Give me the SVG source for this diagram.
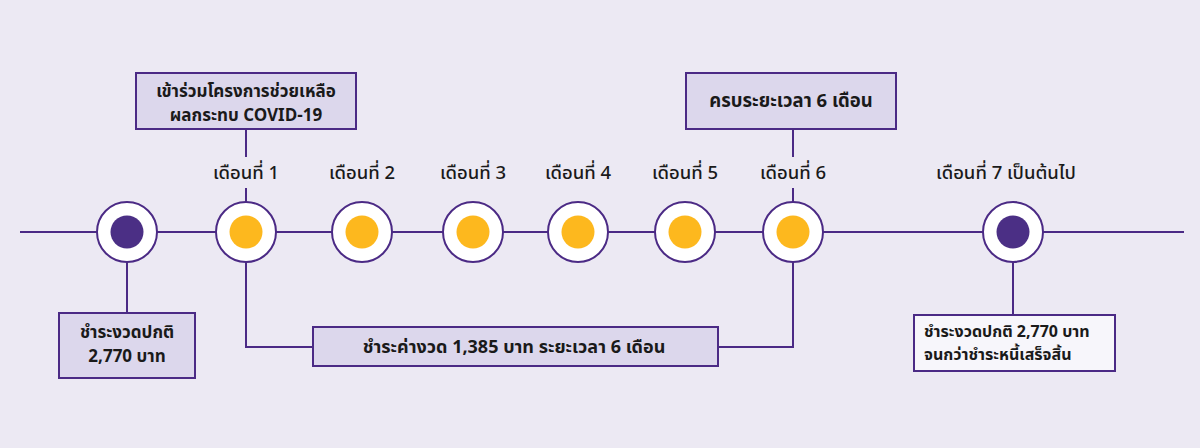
<svg xmlns="http://www.w3.org/2000/svg" width="1200" height="448" viewBox="0 0 1200 448">
<style>
.bg{fill:#ece9f3}
.ln{stroke:#4b2a85;stroke-width:2;fill:none}
.box{fill:#dcd7ec;stroke:#4b2a85;stroke-width:2}
.boxw{fill:#f7f6fb;stroke:#4b2a85;stroke-width:2}
.outer{fill:#ffffff;stroke:#4b2a85;stroke-width:2}
.dot-p{fill:#4b2f85}
.dot-y{fill:#fdb81e}
.lbl{font-family:"Noto Sans Thai","Noto Sans","Liberation Sans",sans-serif;font-size:18.5px;font-weight:500;fill:#1a1a1a;text-anchor:middle}
.bt{font-family:"Noto Sans Thai","Noto Sans","Liberation Sans",sans-serif;font-size:18.5px;font-weight:bold;fill:#1a1a1a;text-anchor:middle}
.bt2{font-family:"Noto Sans Thai","Noto Sans","Liberation Sans",sans-serif;font-size:17px;font-weight:bold;fill:#1a1a1a;text-anchor:middle}
.btl{font-family:"Noto Sans Thai","Noto Sans","Liberation Sans",sans-serif;font-size:16px;font-weight:bold;fill:#1a1a1a}
</style>
<rect class="bg" x="0" y="0" width="1200" height="448"/>
<g id="connectors">
<line class="ln" x1="20" y1="232" x2="1184" y2="232"/>
<line class="ln" x1="246" y1="129" x2="246" y2="157"/>
<line class="ln" x1="246" y1="188" x2="246" y2="202"/>
<line class="ln" x1="793" y1="129" x2="793" y2="157"/>
<line class="ln" x1="793" y1="188" x2="793" y2="202"/>
<line class="ln" x1="127" y1="262" x2="127" y2="313"/>
<polyline class="ln" points="246,262 246,347 313,347"/>
<polyline class="ln" points="718,347 793,347 793,262"/>
<line class="ln" x1="1013" y1="262" x2="1013" y2="315"/>
</g>
<g id="node-start">
<circle class="outer" cx="127" cy="232" r="30"/>
<circle class="dot-p" cx="127" cy="232" r="16.5"/>
</g>
<g id="node-m1">
<circle class="outer" cx="246" cy="232" r="30"/>
<circle class="dot-y" cx="246" cy="232" r="16.5"/>
<text class="lbl" x="246" y="179">เดือนที่ 1</text>
</g>
<g id="node-m2">
<circle class="outer" cx="362" cy="232" r="30"/>
<circle class="dot-y" cx="362" cy="232" r="16.5"/>
<text class="lbl" x="362" y="179">เดือนที่ 2</text>
</g>
<g id="node-m3">
<circle class="outer" cx="473" cy="232" r="30"/>
<circle class="dot-y" cx="473" cy="232" r="16.5"/>
<text class="lbl" x="473" y="179">เดือนที่ 3</text>
</g>
<g id="node-m4">
<circle class="outer" cx="578" cy="232" r="30"/>
<circle class="dot-y" cx="578" cy="232" r="16.5"/>
<text class="lbl" x="578" y="179">เดือนที่ 4</text>
</g>
<g id="node-m5">
<circle class="outer" cx="685" cy="232" r="30"/>
<circle class="dot-y" cx="685" cy="232" r="16.5"/>
<text class="lbl" x="685" y="179">เดือนที่ 5</text>
</g>
<g id="node-m6">
<circle class="outer" cx="793" cy="232" r="30"/>
<circle class="dot-y" cx="793" cy="232" r="16.5"/>
<text class="lbl" x="793" y="179">เดือนที่ 6</text>
</g>
<g id="node-m7">
<circle class="outer" cx="1013" cy="232" r="30"/>
<circle class="dot-p" cx="1013" cy="232" r="16.5"/>
<text class="lbl" x="1006" y="179">เดือนที่ 7 เป็นต้นไป</text>
</g>
<g id="box-covid">
<rect class="box" x="136" y="73" width="220" height="56"/>
<text class="bt2" x="246" y="96.5">เข้าร่วมโครงการช่วยเหลือ</text>
<text class="bt2" x="246" y="120.5">ผลกระทบ COVID-19</text>
</g>
<g id="box-6months">
<rect class="box" x="686" y="73" width="210" height="56"/>
<text class="bt" x="791" y="107">ครบระยะเวลา 6 เดือน</text>
</g>
<g id="box-normal">
<rect class="box" x="59" y="313" width="136" height="65"/>
<text class="bt2" x="127" y="338">ชำระงวดปกติ</text>
<text class="bt2" x="127" y="362">2,770 บาท</text>
</g>
<g id="box-reduced">
<rect class="box" x="313" y="327" width="405" height="39"/>
<text class="bt" x="514" y="353" style="font-size:18px">ชำระค่างวด 1,385 บาท ระยะเวลา 6 เดือน</text>
</g>
<g id="box-after">
<rect class="boxw" x="914" y="315" width="201" height="56"/>
<text class="btl" x="924" y="337">ชำระงวดปกติ 2,770 บาท</text>
<text class="btl" x="924" y="360">จนกว่าชำระหนี้เสร็จสิ้น</text>
</g>
</svg>
